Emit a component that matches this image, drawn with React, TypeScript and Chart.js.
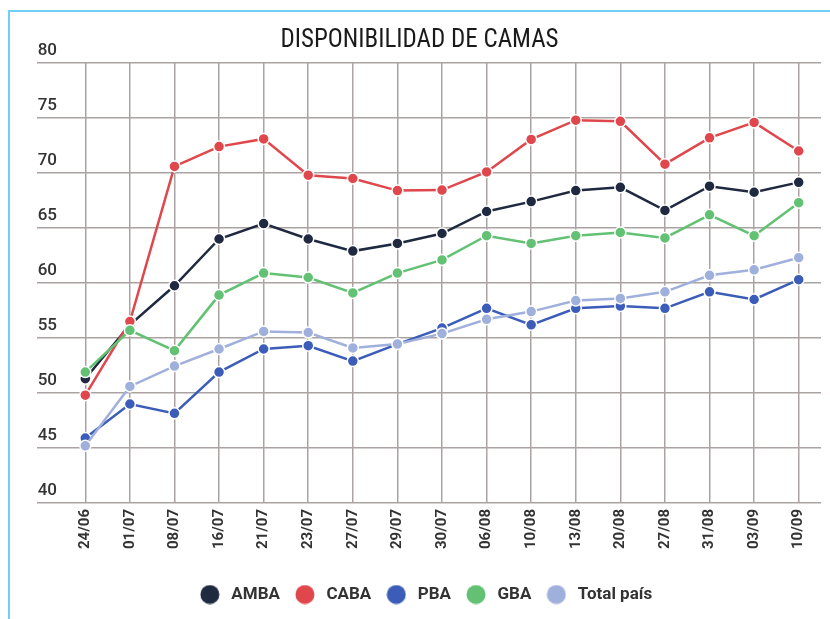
import React, { useEffect, useRef } from 'react';
import { Chart, registerables } from 'chart.js';

Chart.register(...registerables);

const categories = ['24/06', '01/07', '08/07', '16/07', '21/07', '23/07', '27/07', '29/07', '30/07', '06/08', '10/08', '13/08', '20/08', '27/08', '31/08', '03/09', '10/09'];

const ambaValues = [51.3, 56.2, 59.75, 64.0, 65.4, 64.0, 62.9, 63.6, 64.5, 66.5, 67.4, 68.4, 68.7, 66.6, 68.8, 68.25, 69.15];
const cabaValues = [49.8, 56.5, 70.6, 72.4, 73.1, 69.8, 69.5, 68.4, 68.45, 70.1, 73.05, 74.8, 74.7, 70.8, 73.2, 74.6, 72.0];
const pbaValues = [45.9, 49.0, 48.15, 51.9, 54.0, 54.3, 52.9, 54.45, 55.9, 57.7, 56.2, 57.7, 57.9, 57.7, 59.2, 58.5, 60.3];
const gbaValues = [51.9, 55.7, 53.85, 58.9, 60.9, 60.5, 59.1, 60.9, 62.1, 64.3, 63.6, 64.3, 64.6, 64.1, 66.2, 64.3, 67.3];
const totalValues = [45.2, 50.6, 52.45, 54.0, 55.6, 55.5, 54.1, 54.45, 55.4, 56.7, 57.4, 58.4, 58.6, 59.2, 60.7, 61.2, 62.3];

const seriesNames = ['AMBA', 'CABA', 'PBA', 'GBA', 'Total país'];
const seriesColors = ['#1f2940', '#e0474c', '#3b5cb8', '#62c173', '#a0b0dc'];

const chartTitle = 'DISPONIBILIDAD DE CAMAS';
const yMin = 40;
const yMax = 80;
const yStep = 5;

function makeDot(color: string) {
  const c = document.createElement('canvas');
  c.width = 20;
  c.height = 20;
  const ctx = c.getContext('2d');
  if (ctx) {
    ctx.fillStyle = color;
    ctx.beginPath();
    ctx.arc(10, 10, 9.5, 0, Math.PI * 2);
    ctx.fill();
  }
  return c;
}

const shiftPlugin = {
  id: 'shiftBoxes',
  afterLayout(chart: any) {
    if (chart.legend) {
      chart.legend.left += 7;
      chart.legend.right += 7;
    }
    if (chart.titleBlock) {
      chart.titleBlock.left += 2;
      chart.titleBlock.right += 2;
    }
  },
};

export default function App() {
  const canvasRef = useRef<HTMLCanvasElement | null>(null);

  useEffect(() => {
    document.body.style.overflow = 'hidden';
    const canvas = canvasRef.current;
    if (!canvas) return;
    const allValues = [ambaValues, cabaValues, pbaValues, gbaValues, totalValues];
    const gridColor = '#aba3a1';
    const chart = new Chart(canvas, {
      type: 'line',
      data: {
        labels: categories,
        datasets: allValues.map((vals, i) => ({
          label: seriesNames[i],
          data: vals,
          borderColor: seriesColors[i],
          backgroundColor: seriesColors[i],
          pointBackgroundColor: seriesColors[i],
          pointBorderColor: '#ffffff',
          pointBorderWidth: 1.5,
          pointRadius: 5.5,
          borderWidth: 2.5,
          tension: 0,
          order: 4 - i,
        })),
      },
      plugins: [shiftPlugin],
      options: {
        responsive: false,
        animation: false,
        devicePixelRatio: 1,
        layout: { padding: { left: 14, right: 9, top: 0, bottom: 6 } },
        plugins: {
          title: {
            display: true,
            text: chartTitle,
            color: '#1a1a1a',
            font: { family: "'Liberation Sans Narrow', 'Roboto Condensed', 'DejaVu Sans Condensed', sans-serif", size: 25, weight: 'normal' },
            padding: { top: 26, bottom: 7 },
          },
          legend: {
            position: 'bottom',
            labels: {
              usePointStyle: true,
              pointStyleWidth: 26,
              padding: 12,
              color: '#333333',
              font: { family: 'Roboto', size: 17, weight: 'bold' },
              sort: (a: any, b: any) => a.datasetIndex - b.datasetIndex,
              generateLabels: (ch: any) => {
                const items = Chart.defaults.plugins.legend.labels.generateLabels(ch);
                return items.map((it: any) => ({ ...it, pointStyle: makeDot(seriesColors[it.datasetIndex]) }));
              },
            },
          },
          tooltip: { enabled: false },
        },
        scales: {
          x: {
            offset: true,
            border: { display: false },
            grid: { color: gridColor, lineWidth: 1.5, drawTicks: false },
            afterFit: (scale: any) => { scale.height = 71; },
            ticks: {
              autoSkip: false,
              minRotation: 90,
              maxRotation: 90,
              padding: 6,
              color: '#333333',
              font: { family: 'Roboto', size: 15, weight: 'bold' },
            },
          },
          y: {
            min: yMin,
            max: yMax,
            border: { display: false },
            grid: { color: gridColor, lineWidth: 1.5, tickLength: 26, drawTicks: true },
            afterFit: (scale: any) => { scale.width = 49; },
            ticks: {
              stepSize: yStep,
              padding: -20,
              labelOffset: -12,
              color: '#333333',
              font: { family: 'Roboto', size: 17, weight: '500' },
            },
          },
        },
      },
    });
    return () => chart.destroy();
  }, []);

  return (
    <div>
      <div
        style={{
          position: 'fixed',
          left: 8,
          top: 10,
          width: 830,
          height: 620,
          borderTop: '2px solid #6fcff4',
          borderLeft: '2px solid #6fcff4',
          pointerEvents: 'none',
        }}
      />
      <canvas
        ref={canvasRef}
        width={830}
        height={619}
        style={{ position: 'fixed', left: 0, top: 0, width: 830, height: 619 }}
      />
    </div>
  );
}
